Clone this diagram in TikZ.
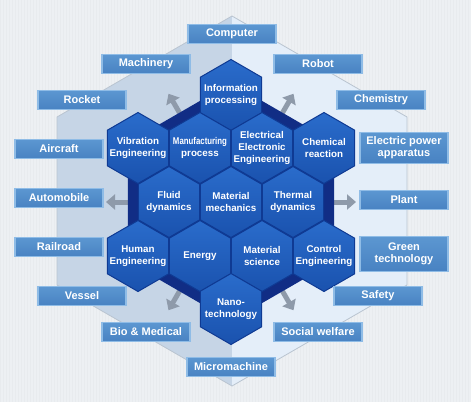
\documentclass[tikz,border=0pt]{standalone}
\usepackage{fontspec}
\setmainfont{Liberation Sans}
\usetikzlibrary{shapes.geometric,arrows.meta,calc}

\definecolor{pagebg}{HTML}{EDF0F3}
\definecolor{gridline}{HTML}{E8EBEE}
\definecolor{leftpanel}{HTML}{C6D5E6}
\definecolor{rightpanel}{HTML}{E4EEF9}
\definecolor{panelline}{HTML}{B9C4D0}
\definecolor{corenavy}{HTML}{112D85}
\definecolor{celltop}{HTML}{2A6CCB}
\definecolor{cellbottom}{HTML}{1A52AE}
\definecolor{celledge}{HTML}{0F3A93}
\definecolor{tagtop}{HTML}{5C97D1}
\definecolor{tagbottom}{HTML}{4882C2}
\definecolor{tagedge}{HTML}{8FBCE6}
\definecolor{arrowgrey}{HTML}{8E9AAA}

\tikzset{
  hexagon/.style={regular polygon, regular polygon sides=6, shape border rotate=30,
    inner sep=0pt},
  cell/.style={hexagon, minimum size=71pt, draw=celledge, line width=1pt,
    top color=celltop, bottom color=cellbottom},
  celltext/.style={text=white, align=center, inner sep=0pt,
    font=\bfseries\fontsize{9.8}{12}\selectfont},
  tag/.style={rectangle, minimum width=88pt, minimum height=19pt, inner sep=1pt,
    draw=tagedge, line width=1.2pt, top color=tagtop, bottom color=tagbottom,
    text=white, align=center, font=\bfseries\fontsize{11}{12}\selectfont},
  outarrow/.style={draw=arrowgrey, line width=5pt,
    -{Triangle[width=15pt,length=9pt]}},
}

\begin{document}
\begin{tikzpicture}[x=1pt,y=-1pt]
  \useasboundingbox (0,0) rectangle (471,402);
  \fill[pagebg] (0,0) rectangle (471,402);
  \draw[gridline, line width=0.3pt, step=3] (0,0) grid (471,402);

  % two halves of the big hexagon
  \fill[leftpanel] (232,16) -- (57,117) -- (57,285) -- (232,386) -- cycle;
  \fill[rightpanel] (232,16) -- (407,117) -- (407,285) -- (232,386) -- cycle;
  \draw[panelline, line width=0.8pt] (232,16) -- (407,117) -- (407,285) -- (232,386)
    -- (57,285) -- (57,117) -- cycle;

  % arrows pointing outwards
  \coordinate (mid) at (231,202);
  \foreach \a/\n in {240/ul,300/ur,180/l,0/r,120/ll,60/lr} {
    \coordinate (t\n) at ($(mid)+(\a:103)$);
    \coordinate (h\n) at ($(mid)+(\a:125)$);
    \draw[outarrow] (t\n) -- (h\n);
  }

  % dark core
  \node[hexagon, minimum size=238pt, fill=corenavy] (core) at (mid) {};

  % cells
  \node[cell, label={[celltext]center:{Information\\processing}}] (info) at (231,95) {};
  \node[cell, label={[celltext]center:{Vibration\\Engineering}}] (vibration) at (138,148) {};
  \node[cell, label={[celltext]center:{\scalebox{0.8}[1]{Manufacturing}\\process}}] (manufacturing) at (200,148) {};
  \node[cell, label={[celltext]center:{Electrical\\Electronic\\Engineering}}] (electrical) at (262,148) {};
  \node[cell, label={[celltext]center:{Chemical\\reaction}}] (chemical) at (324,148) {};
  \node[cell, label={[celltext]center:{Fluid\\dynamics}}] (fluid) at (169,202) {};
  \node[cell, label={[celltext]center:{Material\\mechanics}}] (mechanics) at (231,202) {};
  \node[cell, label={[celltext]center:{Thermal\\dynamics}}] (thermal) at (293,202) {};
  \node[cell, label={[celltext]center:{Human\\Engineering}}] (human) at (138,256) {};
  \node[cell, label={[celltext]center:{Energy}}] (energy) at (200,256) {};
  \node[cell, label={[celltext]center:{Material\\science}}] (science) at (262,256) {};
  \node[cell, label={[celltext]center:{Control\\Engineering}}] (control) at (324,256) {};
  \node[cell, label={[celltext]center:{Nano-\\technology}}] (nano) at (231,309) {};

  % application fields
  \node[tag] (computer) at (232,34) {Computer};
  \node[tag] (machinery) at (146,64) {Machinery};
  \node[tag] (robot) at (318,64) {Robot};
  \node[tag] (rocket) at (82,100) {Rocket};
  \node[tag] (chemistry) at (381,100) {Chemistry};
  \node[tag] (aircraft) at (59,149) {Aircraft};
  \node[tag, minimum height=31pt] (power) at (404,148) {Electric power\\apparatus};
  \node[tag] (automobile) at (59,198) {Automobile};
  \node[tag] (plant) at (404,200) {Plant};
  \node[tag] (railroad) at (59,247) {Railroad};
  \node[tag, minimum height=35pt] (green) at (404,254) {Green\\technology};
  \node[tag] (vessel) at (82,296) {Vessel};
  \node[tag] (safety) at (378,296) {Safety};
  \node[tag] (bio) at (146,332) {Bio \& Medical};
  \node[tag] (welfare) at (318,332) {Social welfare};
  \node[tag] (micro) at (231,367) {Micromachine};
\end{tikzpicture}
\end{document}
